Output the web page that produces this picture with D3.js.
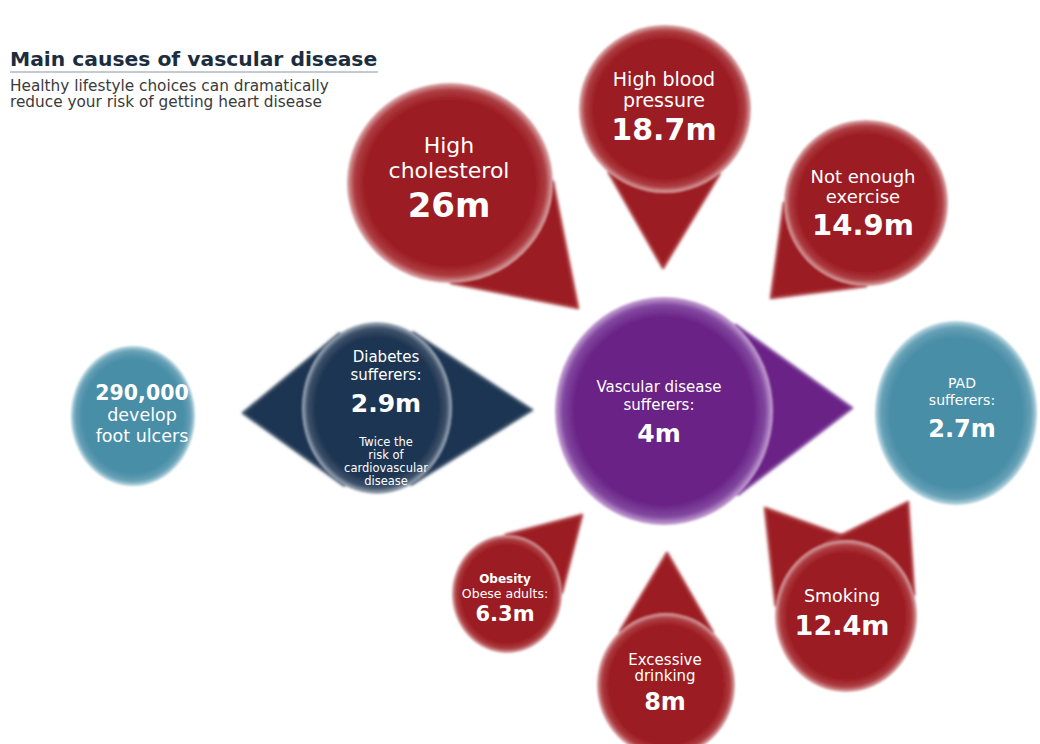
<!DOCTYPE html>
<html><head><meta charset="utf-8">
<script src="https://cdn.jsdelivr.net/npm/d3@7"></script>
<style>
body{margin:0;background:#fff}
svg{display:block}
text{font-family:"DejaVu Sans",sans-serif}
</style>
</head><body>
<svg id="chart" width="1040" height="744"></svg>
<script>
// ---------- data ----------
const titleText = "Main causes of vascular disease";
const subtitleLines = ["Healthy lifestyle choices can dramatically", "reduce your risk of getting heart disease"];

const nodeIds    = ["chol", "bp", "exercise", "vascular", "diabetes", "ulcers", "pad", "smoking", "obesity", "drinking"];
const nodeGroups = ["cause", "cause", "cause", "hub", "diabetes", "outcome", "outcome", "cause", "cause", "cause"];
const headLines  = [["High", "cholesterol"], ["High blood", "pressure"], ["Not enough", "exercise"],
                    ["Vascular disease", "sufferers:"], ["Diabetes", "sufferers:"], [],
                    ["PAD", "sufferers:"], ["Smoking"], ["Obesity", "Obese adults:"], ["Excessive", "drinking"]];
const nodeValues = ["26m", "18.7m", "14.9m", "4m", "2.9m", "290,000", "2.7m", "12.4m", "6.3m", "8m"];
const tailLines  = [[], [], [], [], ["Twice the", "risk of", "cardiovascular", "disease"], ["develop", "foot ulcers"], [], [], [], []];

// ---------- layout (positions / sizes / styles) ----------
const layout = {
  chol:     {cx:450, cy:183, rx:103, ry:100, tx:449, tips:[[578,308,45]],
             text:[[-30,22,"n"],[-5,22,"n"],[34,34,"b"]]},
  bp:       {cx:665, cy:109, rx:86, ry:84, tx:664, tips:[[663,268,40]],
             text:[[-23,19,"n"],[-2,19,"n"],[31,30,"b"]]},
  exercise: {cx:866, cy:203, rx:82, ry:83, tx:863, tips:[[771,298,45]],
             text:[[-20,18,"n"],[0,18,"n"],[32,29,"b"]]},
  vascular: {cx:664, cy:411, rx:109, ry:114, tx:659, tips:[[852,408,48]],
             text:[[-19,15,"n"],[-1,15,"n"],[31,25,"b"]]},
  diabetes: {cx:377, cy:408, rx:75, ry:86, tx:386, tips:[[243,413,62],[532,410,62]],
             text:[[-46,15,"n"],[-28,15,"n"],[4,25,"b"],[38,11.5,"n"],[51,11.5,"n"],[64,11.5,"n"],[77,11.5,"n"]]},
  ulcers:   {cx:133, cy:416, rx:62, ry:70, tx:142, tips:[],
             text:[[-16,20.5,"b"],[5,17.5,"n"],[26,17.5,"n"]]},
  pad:      {cx:956, cy:413, rx:81, ry:92, tx:962, tips:[],
             text:[[-25,14,"n"],[-8,14,"n"],[24,24,"b"]]},
  smoking:  {cx:846, cy:616, rx:71, ry:76, tx:842, tips:[[765,508,45],[908,502,45]],
             text:[[-14,17.5,"n"],[19,27,"b"]]},
  obesity:  {cx:507, cy:594, rx:55, ry:59, tx:505, tips:[[582,515,45]],
             text:[[-11,12,"b"],[4,12.5,"n"],[27,21,"b"]]},
  drinking: {cx:666, cy:685, rx:69, ry:72, tx:665, tips:[[667,553,42]],
             text:[[-20,15,"n"],[-4,15,"n"],[25,24,"b"]]}
};

const groupNames = ["cause", "hub", "diabetes", "outcome"];
const baseColor = d3.scaleOrdinal().domain(groupNames).range(["#9b1b21", "#6a2386", "#1f3552", "#4a8ea7"]);
const midColor  = d3.scaleOrdinal().domain(groupNames).range(["#ad3d42", "#8248a0", "#3e526b", "#66a1b6"]);
const rimColor  = d3.scaleOrdinal().domain(groupNames).range(["#dcaaab", "#c9a6d6", "#a9b3c0", "#bcd9e3"]);

// ---------- drawing ----------
const svg = d3.select("#chart");
const defs = svg.append("defs");

groupNames.forEach(g => {
  const rg = defs.append("radialGradient").attr("id", "grad-" + g)
    .attr("cx", "50%").attr("cy", "50%").attr("r", "50%");
  rg.append("stop").attr("offset", "0%").attr("stop-color", baseColor(g));
  rg.append("stop").attr("offset", "82%").attr("stop-color", baseColor(g));
  rg.append("stop").attr("offset", "93%").attr("stop-color", midColor(g));
  rg.append("stop").attr("offset", "100%").attr("stop-color", rimColor(g));
});
defs.append("filter").attr("id", "softP").attr("x", "-10%").attr("y", "-10%").attr("width", "120%").attr("height", "120%")
  .append("feGaussianBlur").attr("stdDeviation", 1.4);
defs.append("filter").attr("id", "softC").attr("x", "-10%").attr("y", "-10%").attr("width", "120%").attr("height", "120%")
  .append("feGaussianBlur").attr("stdDeviation", 1.2);

// title block
svg.append("text").attr("x", 10).attr("y", 66)
  .attr("font-size", 20.3).attr("font-weight", "bold").attr("fill", "#1b2d3e")
  .text(titleText);
svg.append("line").attr("x1", 10).attr("x2", 378).attr("y1", 72).attr("y2", 72)
  .attr("stroke", "#8796a5").attr("stroke-width", 1.2);
subtitleLines.forEach((s, i) => {
  svg.append("text").attr("x", 10).attr("y", 90.5 + i * 16.5)
    .attr("font-size", 15.3).attr("fill", "#3a3a3a").text(s);
});

// nodes
nodeIds.forEach((id, i) => {
  const L = layout[id];
  const grp = nodeGroups[i];
  const g = svg.append("g").attr("class", "node " + id);

  L.tips.forEach(([tx, ty, a]) => {
    const th = Math.atan2(ty - L.cy, tx - L.cx);
    const al = a * Math.PI / 180;
    const p1 = [L.cx + L.rx * Math.cos(th - al), L.cy + L.ry * Math.sin(th - al)];
    const p2 = [L.cx + L.rx * Math.cos(th + al), L.cy + L.ry * Math.sin(th + al)];
    const path = d3.path();
    path.moveTo(tx, ty); path.lineTo(p1[0], p1[1]);
    path.lineTo(L.cx, L.cy); path.lineTo(p2[0], p2[1]); path.closePath();
    g.append("path").attr("d", path.toString())
      .attr("fill", baseColor(grp))
      .attr("stroke", midColor(grp)).attr("stroke-width", 2.5).attr("stroke-linejoin", "round")
      .attr("filter", "url(#softP)");
  });

  g.append("ellipse").attr("cx", L.cx).attr("cy", L.cy).attr("rx", L.rx).attr("ry", L.ry)
    .attr("fill", "url(#grad-" + grp + ")").attr("filter", "url(#softC)");

  const lines = [...headLines[i], nodeValues[i], ...tailLines[i]];
  lines.forEach((t, j) => {
    const s = L.text[j];
    g.append("text").attr("x", L.tx).attr("y", L.cy + s[0])
      .attr("text-anchor", "middle").attr("font-size", s[1])
      .attr("font-weight", s[2] === "b" ? "bold" : "normal")
      .attr("fill", "#ffffff").text(t);
  });
});
</script>
</body></html>
